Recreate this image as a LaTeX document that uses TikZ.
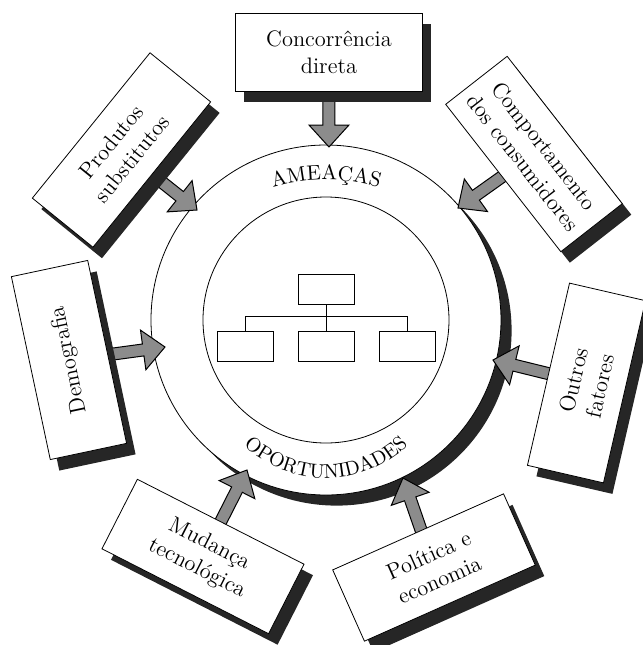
\documentclass[tikz,border=0pt]{standalone}
\usetikzlibrary{calc,shadows,decorations.text}
\pgfdeclarelayer{back}
\pgfdeclarelayer{mid}
\pgfsetlayers{back,mid,main}

\begin{document}
\begin{tikzpicture}[
    x=0.5pt,
    y=0.5pt,
    line width=0.6pt,
    factorbox/.style={draw, fill=white, align=center, inner sep=2pt,
        minimum width=93.5pt, minimum height=39pt,
        font=\fontsize{11.2}{13.5}\selectfont,
        drop shadow={shadow xshift=4.5pt, shadow yshift=-5.5pt,
            fill=black!85, opacity=1}},
    orgbox/.style={draw, minimum width=28pt, minimum height=15pt, inner sep=0pt},
    blockarrow/.style={draw=black, fill=black!45, line width=0.5pt,
        to path={let \p1=(\tikztostart), \p2=(\tikztotarget),
            \n1={atan2(\y2-\y1,\x2-\x1)}, \n2={veclen(\x2-\x1,\y2-\y1)-11pt} in
            ($(\p1)+(\n1+90:3pt)$) -- ($(\p1)+(\n1:\n2)+(\n1+90:3pt)$)
            -- ($(\p1)+(\n1:\n2)+(\n1+90:10pt)$) -- (\p2)
            -- ($(\p1)+(\n1:\n2)+(\n1-90:10pt)$) -- ($(\p1)+(\n1:\n2)+(\n1-90:3pt)$)
            -- ($(\p1)+(\n1-90:3pt)$) -- cycle}}
]
\useasboundingbox (-326,-325) rectangle (317,320);

% circles
\begin{pgfonlayer}{back}
\fill[black!85] (-45:15) circle (175);
\draw[fill=white] (0,0) circle (175);
\draw (0,0) circle (123);
\end{pgfonlayer}

% organisation
\node[orgbox] (boss) at (0,31) {};
\node[orgbox] (unitL) at (-81,-26) {};
\node[orgbox] (unitM) at (0,-26) {};
\node[orgbox] (unitR) at (81,-26) {};
\draw (boss) -- (unitM);
\draw (unitL.north) -- ++(0,14) -| (unitR.north);

\path[decorate, decoration={text along path, text align=center,
    text={|\fontsize{10.5}{12}\selectfont|AMEAÇAS}}]
  ($(0,-40)+(110:180)$) arc (110:70:180);
\path[decorate, decoration={text along path, text align=center,
    text={|\fontsize{10}{12}\selectfont|OPORTUNIDADES}}]
  ($(0,-38)+(200:120)$) arc (200:340:120);

% factors
\node[factorbox] (conc) at (3,268) {Concorrência\\direta};
\node[factorbox, rotate=51] (prod) at (-204.5,170) {Produtos\\substitutos};
\node[factorbox, rotate=-52] (comp) at (208,166) {Comportamento\\dos consumidores};
\node[factorbox, rotate=102] (demo) at (-257,-40) {Demografia};
\node[factorbox, rotate=77] (outr) at (260.5,-63) {Outros\\fatores};
\node[factorbox, rotate=-27] (muda) at (-123,-236.5) {Mudança\\tecnológica};
\node[factorbox, rotate=24] (poli) at (108,-247.5) {Política e\\economia};

\coordinate (tConc) at (3,173);
\coordinate (tProd) at (-129,110);
\coordinate (tComp) at (132,112);
\coordinate (tDemo) at (-161,-27);
\coordinate (tOutr) at (167,-40);
\coordinate (tMuda) at (-79,-150);
\coordinate (tPoli) at (77,-158);

\begin{pgfonlayer}{mid}
\path
  (conc) edge[blockarrow] (tConc)
  (prod) edge[blockarrow] (tProd)
  (comp) edge[blockarrow] (tComp)
  (demo) edge[blockarrow] (tDemo)
  (outr) edge[blockarrow] (tOutr)
  (muda) edge[blockarrow] (tMuda)
  (poli) edge[blockarrow] (tPoli);
\end{pgfonlayer}
\end{tikzpicture}
\end{document}
